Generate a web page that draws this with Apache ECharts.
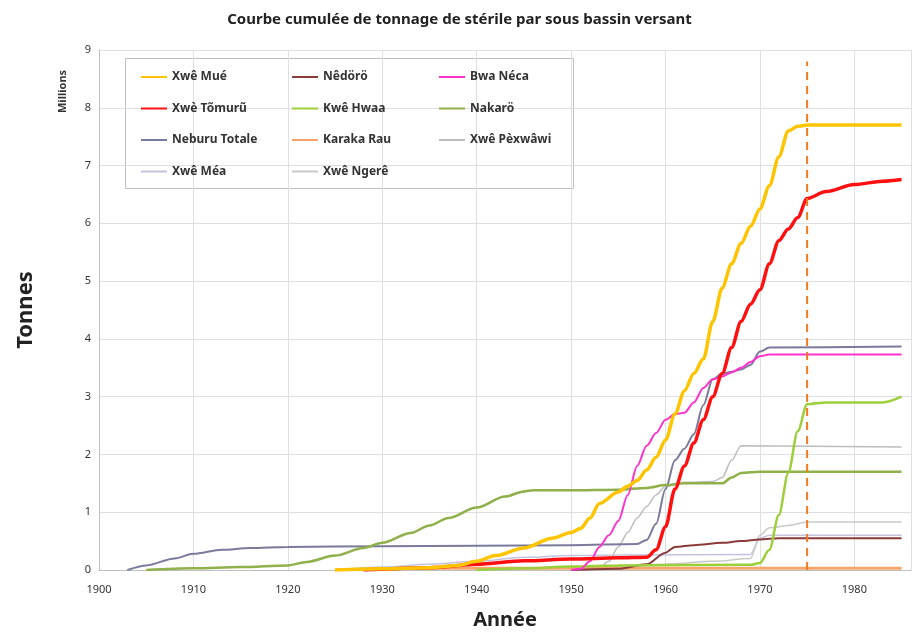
<!DOCTYPE html>
<html>
<head>
<meta charset="utf-8">
<script src="https://cdn.jsdelivr.net/npm/echarts@6/dist/echarts.min.js"></script>
<style>
  html, body { margin: 0; padding: 0; background: #fff; }
  #chart { width: 919px; height: 635px; }
</style>
</head>
<body>
<div id="chart"></div>
<script>
// valeurs cumulées (millions de tonnes), [année, valeur]
var xweMue = [[1925,0],[1930,0.02],[1935,0.04],[1938,0.08],[1940,0.15],[1942,0.25],[1945,0.38],[1948,0.55],[1950,0.65],[1951,0.72],[1952,0.9],[1953,1.15],[1955,1.35],[1956,1.45],[1957,1.55],[1958,1.73],[1959,1.95],[1960,2.25],[1961,2.7],[1962,3.1],[1963,3.4],[1964,3.65],[1965,4.3],[1966,4.88],[1967,5.3],[1968,5.65],[1969,5.95],[1970,6.25],[1971,6.65],[1972,7.15],[1973,7.6],[1974,7.68],[1975,7.7],[1985,7.7]];
var xweTomuru = [[1928,0],[1935,0.04],[1940,0.1],[1945,0.16],[1950,0.19],[1955,0.21],[1958,0.22],[1959,0.35],[1960,0.75],[1961,1.4],[1962,1.8],[1963,2.2],[1964,2.6],[1965,3.0],[1966,3.4],[1967,3.85],[1968,4.3],[1969,4.6],[1970,4.85],[1971,5.3],[1972,5.7],[1973,5.9],[1974,6.1],[1975,6.43],[1977,6.55],[1980,6.67],[1983,6.73],[1985,6.76]];
var nedoro = [[1950,0],[1955,0.02],[1958,0.1],[1960,0.3],[1961,0.4],[1963,0.43],[1966,0.47],[1968,0.5],[1970,0.53],[1972,0.55],[1985,0.55]];
var bwaNeca = [[1950,0],[1951,0.02],[1952,0.15],[1953,0.4],[1954,0.6],[1955,0.85],[1956,1.3],[1957,1.8],[1958,2.15],[1959,2.37],[1960,2.6],[1961,2.7],[1962,2.72],[1963,2.9],[1964,3.15],[1965,3.3],[1966,3.35],[1967,3.42],[1968,3.5],[1969,3.6],[1970,3.7],[1971,3.73],[1985,3.73]];
var kweHwaa = [[1940,0],[1945,0.03],[1950,0.06],[1955,0.08],[1969,0.09],[1970,0.12],[1971,0.35],[1972,0.95],[1973,1.68],[1974,2.4],[1975,2.87],[1977,2.9],[1983,2.9],[1985,3.0]];
var nakaro = [[1905,0],[1910,0.03],[1915,0.05],[1920,0.08],[1922,0.14],[1925,0.25],[1928,0.38],[1930,0.47],[1933,0.64],[1935,0.77],[1937,0.9],[1940,1.08],[1943,1.27],[1945,1.36],[1946,1.38],[1950,1.38],[1955,1.39],[1958,1.42],[1960,1.47],[1962,1.5],[1966,1.5],[1967,1.6],[1968,1.68],[1970,1.7],[1985,1.7]];
var neburuTotale = [[1903,0],[1905,0.08],[1908,0.2],[1910,0.28],[1913,0.35],[1916,0.38],[1920,0.4],[1930,0.41],[1940,0.42],[1950,0.43],[1957,0.45],[1958,0.52],[1959,0.8],[1960,1.4],[1961,1.9],[1962,2.1],[1963,2.35],[1964,2.85],[1965,3.3],[1966,3.4],[1967,3.43],[1968,3.47],[1969,3.55],[1970,3.78],[1971,3.85],[1985,3.87]];
var karakaRau = [[1925,0],[1935,0.03],[1985,0.03]];
var xwePexwawi = [[1953,0],[1954,0.15],[1955,0.4],[1956,0.65],[1957,0.9],[1958,1.1],[1959,1.3],[1960,1.45],[1962,1.52],[1965,1.53],[1966,1.6],[1967,1.9],[1968,2.15],[1985,2.13]];
var xweMea = [[1925,0],[1930,0.05],[1935,0.1],[1940,0.15],[1945,0.22],[1950,0.25],[1955,0.26],[1969,0.27],[1970,0.55],[1971,0.6],[1985,0.6]];
var xweNgere = [[1950,0],[1955,0.05],[1960,0.1],[1965,0.15],[1969,0.2],[1970,0.6],[1971,0.73],[1973,0.77],[1975,0.83],[1985,0.83]];
var limite = [[1975,0],[1975,8.8]];

var col1 = ['Xwê Mué', 'Xwè Tõmurũ', 'Neburu Totale', 'Xwê Méa'];
var col2 = ['Nêdörö', 'Kwê Hwaa', 'Karaka Rau', 'Xwê Ngerê'];
var col3 = ['Bwa Néca', 'Nakarö', 'Xwê Pèxwâwi'];

var chart = echarts.init(document.getElementById('chart'));

function ligne(nom, data, couleur, epaisseur, z) {
    return {
        name: nom,
        type: 'line',
        data: data,
        symbol: 'none',
        smooth: 0.3,
        smoothMonotone: 'x',
        z: z || 2,
        lineStyle: { color: couleur, width: epaisseur },
        itemStyle: { color: couleur }
    };
}

function legende(noms, gauche) {
    return {
        data: noms,
        orient: 'vertical',
        left: gauche,
        top: 66,
        itemWidth: 26,
        itemHeight: 14,
        itemGap: 19.5,
        itemStyle: { opacity: 0 },
        textStyle: { fontFamily: 'Noto Sans', fontSize: 12, color: '#333', fontWeight: 'bold' },
        selectedMode: false
    };
}

var option = {
    backgroundColor: '#fff',
    animation: false,
    title: {
        text: 'Courbe cumulée de tonnage de stérile par sous bassin versant',
        left: 'center',
        top: 7,
        textStyle: { fontFamily: 'Noto Sans', fontSize: 15, fontWeight: 'bold', color: '#222' }
    },
    legend: [legende(col1, 135), legende(col2, 286), legende(col3, 433)],
    grid: { left: 99, right: 8, top: 50, bottom: 65 },
    graphic: [
        {
            type: 'rect', left: 125, top: 58, z: 0,
            shape: { width: 448, height: 130 },
            style: { fill: '#fff', stroke: '#bfbfbf', lineWidth: 1 }
        },
        {
            type: 'text', x: 57, y: 113, rotation: Math.PI / 2,
            style: { text: 'Millions', fill: '#333', font: 'bold 11px "Noto Sans"' }
        }
    ],
    xAxis: {
        type: 'value',
        min: 1900,
        max: 1986,
        interval: 10,
        name: 'Année',
        nameLocation: 'middle',
        nameGap: 40,
        nameTextStyle: { fontFamily: 'Noto Sans', fontSize: 20, fontWeight: 'bold', color: '#222' },
        axisLine: { show: true, lineStyle: { color: '#bfbfbf' } },
        axisTick: { show: false },
        axisLabel: {
            fontFamily: 'Noto Sans', fontSize: 11, color: '#333', margin: 14,
            formatter: function (v) { return v % 10 === 0 ? String(v) : ''; }
        },
        splitLine: { show: true, lineStyle: { color: '#e0e0e0' } }
    },
    yAxis: {
        type: 'value',
        min: 0,
        max: 9,
        interval: 1,
        name: 'Tonnes',
        nameLocation: 'middle',
        nameGap: 62,
        nameTextStyle: { fontFamily: 'Noto Sans', fontSize: 22, fontWeight: 'bold', color: '#222' },
        axisLine: { show: true, lineStyle: { color: '#bfbfbf' } },
        axisTick: { show: false },
        axisLabel: { fontFamily: 'Noto Sans', fontSize: 11, color: '#333', margin: 8 },
        splitLine: { show: true, lineStyle: { color: '#e0e0e0' } }
    },
    series: [
        ligne('Xwê Méa', xweMea, '#c3c3e0', 1.5),
        ligne('Xwê Ngerê', xweNgere, '#c9c9c9', 1.5),
        ligne('Xwê Pèxwâwi', xwePexwawi, '#bdbdbd', 1.5),
        ligne('Karaka Rau', karakaRau, '#f7a46a', 3),
        ligne('Nêdörö', nedoro, '#8b3a3a', 2),
        ligne('Neburu Totale', neburuTotale, '#7a7a9c', 2),
        ligne('Nakarö', nakaro, '#8fb04a', 2.5),
        ligne('Kwê Hwaa', kweHwaa, '#9dcf3a', 2.5),
        ligne('Bwa Néca', bwaNeca, '#ff33cc', 2),
        ligne('Xwè Tõmurũ', xweTomuru, '#ff1010', 3.5, 3),
        ligne('Xwê Mué', xweMue, '#ffc400', 3.5, 3),
        {
            name: 'limite',
            type: 'line',
            data: limite,
            symbol: 'none',
            z: 4,
            lineStyle: { color: '#f07a20', width: 2, type: [8, 6] }
        }
    ]
};

chart.setOption(option);
</script>
</body>
</html>
